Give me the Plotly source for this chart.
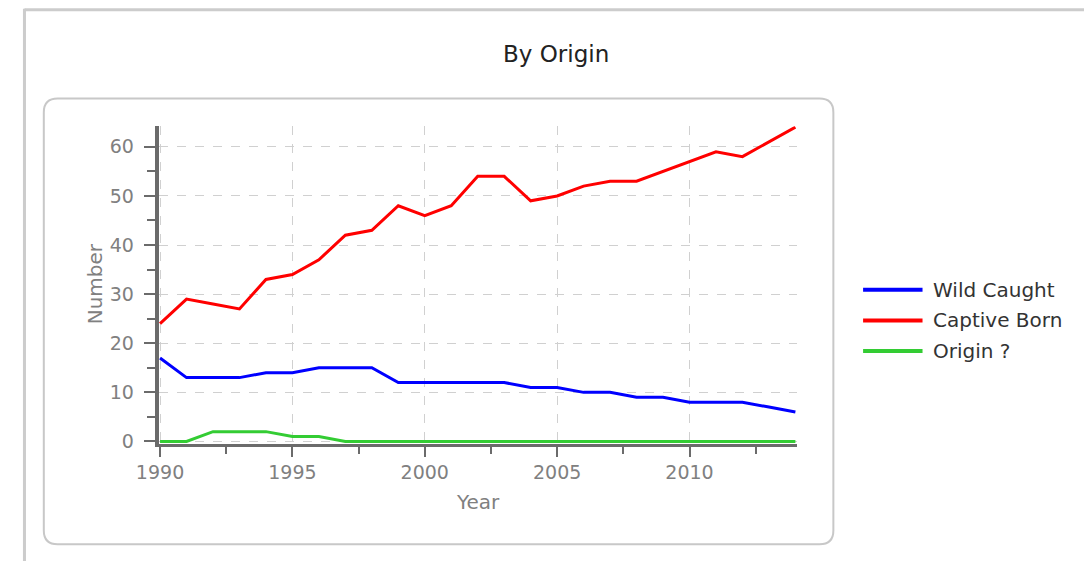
import plotly.graph_objects as go

years = list(range(1990, 2015))
wild_caught = [17, 13, 13, 13, 14, 14, 15, 15, 15, 12, 12, 12, 12, 12, 11, 11, 10, 10, 9, 9, 8, 8, 8, 7, 6]
captive_born = [24, 29, 28, 27, 33, 34, 37, 42, 43, 48, 46, 48, 54, 54, 49, 50, 52, 53, 53, 55, 57, 59, 58, 61, 64]
origin_unknown = [0, 0, 2, 2, 2, 1, 1, 0, 0, 0, 0, 0, 0, 0, 0, 0, 0, 0, 0, 0, 0, 0, 0, 0, 0]

series_names = ["Wild Caught", "Captive Born", "Origin ?"]
series_values = [wild_caught, captive_born, origin_unknown]
series_colors = ["#0000ff", "#ff0000", "#33cc33"]

W, H = 1084, 569
FONT = "DejaVu Sans"


def px(x):
    # horizontal pixel -> paper fraction (compensates the observed capture offset)
    return max(0.0, (x - 14) / 0.988) / W


def py(y):
    return 1 - y / H


fig = go.Figure()
for name, vals, col in zip(series_names, series_values, series_colors):
    fig.add_trace(go.Scatter(x=years, y=vals, mode="lines", name=name,
                             line=dict(color=col, width=3), showlegend=False))

axis_col = "#6b6b6b"
tick_font = dict(family=FONT, size=19, color="#808080")

fig.update_xaxes(
    domain=[px(151), px(795)], range=[1989.95, 2014.05],
    tick0=1990, dtick=5, ticks="outside", ticklen=10, tickwidth=2, tickcolor=axis_col,
    showline=True, linecolor=axis_col, linewidth=3,
    showgrid=True, gridcolor="#d0d0d0", gridwidth=1, griddash="dash",
    zeroline=False, tickfont=tick_font, layer="below traces",
    minor=dict(dtick=2.5, tick0=1990, ticks="outside", ticklen=7, tickwidth=2,
               tickcolor=axis_col, showgrid=False),
)
fig.update_yaxes(
    domain=[py(450), py(128)], range=[-0.45, 64.2],
    tick0=0, dtick=10, ticks="outside", ticklen=11, tickwidth=2, tickcolor=axis_col,
    showline=True, linecolor=axis_col, linewidth=4,
    showgrid=True, gridcolor="#d0d0d0", gridwidth=1, griddash="dash",
    zeroline=False, tickfont=tick_font, layer="below traces", ticklabelstandoff=6,
    minor=dict(dtick=5, ticks="outside", ticklen=8, tickwidth=2,
               tickcolor=axis_col, showgrid=False),
)

shapes = []
# outer page frame
shapes.append(dict(type="line", xref="paper", yref="paper", x0=1.5 / W, x1=1.0,
                   y0=py(10), y1=py(10), line=dict(color="#cccccc", width=3)))
shapes.append(dict(type="line", xref="paper", yref="paper", x0=1.5 / W, x1=1.5 / W,
                   y0=py(9), y1=0, line=dict(color="#cccccc", width=3)))
# rounded box around chart
L, R, T, B, r = 35, 832, 100, 552, 14
path = (f"M {px(L + r)} {py(T)} L {px(R - r)} {py(T)} Q {px(R)} {py(T)} {px(R)} {py(T + r)} "
        f"L {px(R)} {py(B - r)} Q {px(R)} {py(B)} {px(R - r)} {py(B)} "
        f"L {px(L + r)} {py(B)} Q {px(L)} {py(B)} {px(L)} {py(B - r)} "
        f"L {px(L)} {py(T + r)} Q {px(L)} {py(T)} {px(L + r)} {py(T)} Z")
shapes.append(dict(type="path", xref="paper", yref="paper", path=path,
                   line=dict(color="#c8c8c8", width=2), layer="below"))

annotations = []
# custom legend
for i, (name, col) in enumerate(zip(series_names, series_colors)):
    yy = 294 + 31 * i
    shapes.append(dict(type="line", xref="paper", yref="paper", x0=px(862), x1=px(922),
                       y0=py(yy), y1=py(yy), line=dict(color=col, width=4)))
    annotations.append(dict(xref="paper", yref="paper", x=px(931), y=py(yy), text=name,
                            showarrow=False, xanchor="left", yanchor="middle",
                            font=dict(family=FONT, size=20, color="#333333")))

annotations.append(dict(xref="paper", yref="paper", x=px(552), y=py(55), text="By Origin",
                        showarrow=False, xanchor="center", yanchor="middle",
                        font=dict(family=FONT, size=23, color="#222222")))
annotations.append(dict(xref="paper", yref="paper", x=px(473), y=py(509), text="Year",
                        showarrow=False, xanchor="center", yanchor="middle",
                        font=dict(family=FONT, size=20, color="#808080")))
annotations.append(dict(xref="paper", yref="paper", x=px(87), y=py(288), text="Number",
                        showarrow=False, xanchor="center", yanchor="middle", textangle=-90,
                        font=dict(family=FONT, size=20, color="#808080")))

fig.update_layout(
    width=W, height=H, margin=dict(l=0, r=0, t=0, b=0),
    paper_bgcolor="white", plot_bgcolor="rgba(0,0,0,0)",
    shapes=shapes, annotations=annotations, showlegend=False,
)

fig.write_html("out.html", config={"displayModeBar": False},
               post_script="document.body.style.margin='0';document.body.style.overflow='hidden';")
